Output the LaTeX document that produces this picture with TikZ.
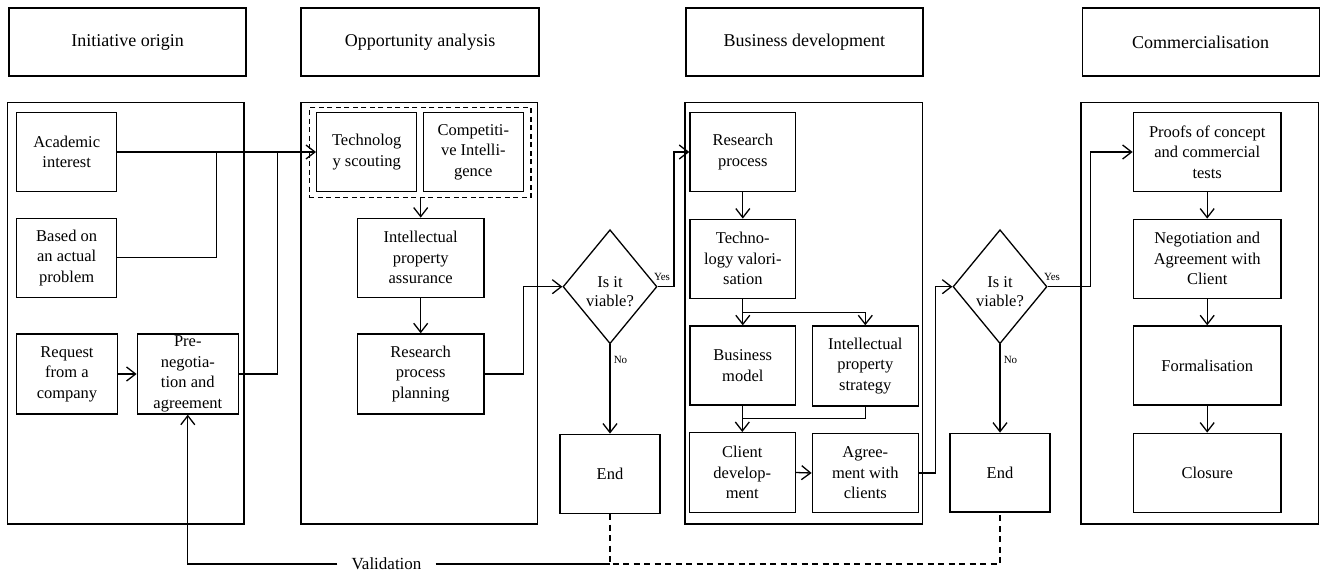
\documentclass[tikz,border=0pt]{standalone}
\usepackage{fontspec}
\setmainfont{Liberation Serif}
\usetikzlibrary{arrows.meta,shapes.geometric}

\tikzset{
  stagebox/.style={draw, line width=1.4pt, inner sep=0pt, align=center,
    font=\fontsize{18}{22}\selectfont},
  panel/.style={draw, line width=1.4pt, inner sep=0pt},
  stepbox/.style={draw, line width=1.4pt, inner sep=0pt, align=center,
    font=\fontsize{16.5}{20.5}\selectfont},
  decision/.style={draw, diamond, line width=1.3pt, inner sep=0pt,
    minimum width=94pt, minimum height=114pt, aspect=0.82},
  question/.style={inner sep=0pt, align=center, font=\fontsize{16.5}{19.5}\selectfont},
  grouping/.style={draw, dash pattern=on 5pt off 3.5pt, line width=1.3pt, inner sep=0pt},
  link/.style={line width=1.3pt},
  arr/.style={line width=1.3pt, -{Straight Barb[length=9pt,width=14pt]}},
  tag/.style={inner sep=0pt, font=\fontsize{11}{13}\selectfont},
  dashlink/.style={line width=1.3pt, dash pattern=on 6pt off 4.5pt},
}

\begin{document}
\begin{tikzpicture}[x=1pt,y=-1pt]
\useasboundingbox (0,0) rectangle (1322,573);

% stage headings
\node[stagebox, minimum width=237pt, minimum height=68pt] (h1) at (127.5,42) {Initiative origin};
\node[stagebox, minimum width=238pt, minimum height=68pt] (h2) at (420,42) {Opportunity analysis};
\node[stagebox, minimum width=237pt, minimum height=68pt] (h3) at (804.3,42) {Business development};
\node[stagebox, minimum width=237pt, minimum height=68pt] (h4) at (1200.7,42) {Commercialisation};

% stage frames
\node[panel, minimum width=236.7pt, minimum height=421.3pt] (p1) at (125.7,313.4) {};
\node[panel, minimum width=236.7pt, minimum height=421.3pt] (p2) at (419.4,313.4) {};
\node[panel, minimum width=237.3pt, minimum height=421.3pt] (p3) at (803.7,313.4) {};
\node[panel, minimum width=237.3pt, minimum height=421.3pt] (p4) at (1199.7,313.4) {};

% initiative origin
\node[stepbox, minimum width=100pt, minimum height=79.4pt] (acad) at (66.7,152) {Academic\\interest};
\node[stepbox, minimum width=100pt, minimum height=79pt] (based) at (66.7,257.8) {Based on\\an actual\\problem};
\node[stepbox, minimum width=100.6pt, minimum height=80pt] (req) at (67,374) {Request\\from a\\company};
\node[stepbox, minimum width=101pt, minimum height=80pt] (pre) at (187.8,374) {Pre-\\negotia-\\tion and\\agreement};

% opportunity analysis
\node[grouping, minimum width=221.7pt, minimum height=89.6pt] (grp) at (420.2,152.5) {};
\node[stepbox, minimum width=100pt, minimum height=79.4pt] (tech) at (366.7,152) {Technolog\\y scouting};
\node[stepbox, minimum width=100pt, minimum height=79.4pt] (comp) at (473.3,152) {Competiti-\\ve Intelli-\\gence};
\node[stepbox, minimum width=126.7pt, minimum height=79pt] (ipa) at (420.7,257.8) {Intellectual\\property\\assurance};
\node[stepbox, minimum width=126.7pt, minimum height=80pt] (rpp) at (420.7,374) {Research\\process\\planning};

% first decision
\node[decision] (d1) at (610,286.7) {};
\node[question] (q1) at (610,291.5) {Is it\\viable?};
\node[stepbox, minimum width=100pt, minimum height=79pt] (end1) at (610,473.8) {End};

% business development
\node[stepbox, minimum width=105.7pt, minimum height=79.4pt] (rp) at (742.8,152) {Research\\process};
\node[stepbox, minimum width=105.7pt, minimum height=79pt] (tv) at (742.8,258.8) {Techno-\\logy valori-\\sation};
\node[stepbox, minimum width=105.7pt, minimum height=79pt] (bm) at (742.8,365.5) {Business\\model};
\node[stepbox, minimum width=106pt, minimum height=80pt] (ips) at (865.3,366) {Intellectual\\property\\strategy};
\node[stepbox, minimum width=106pt, minimum height=79.6pt] (cd) at (742.3,472.5) {Client\\develop-\\ment};
\node[stepbox, minimum width=106pt, minimum height=78.6pt] (ag) at (865.3,473) {Agree-\\ment with\\clients};

% second decision
\node[decision] (d2) at (1000,286.7) {};
\node[question] (q2) at (1000,291.5) {Is it\\viable?};
\node[stepbox, minimum width=100pt, minimum height=78.7pt] (end2) at (1000,472.7) {End};

% commercialisation
\node[stepbox, minimum width=147.7pt, minimum height=79.4pt] (poc) at (1207.2,152) {Proofs of concept\\and commercial\\tests};
\node[stepbox, minimum width=147.7pt, minimum height=79pt] (neg) at (1207.2,258.8) {Negotiation and\\Agreement with\\Client};
\node[stepbox, minimum width=147.7pt, minimum height=79pt] (form) at (1207.2,365.5) {Formalisation};
\node[stepbox, minimum width=147.7pt, minimum height=79pt] (clos) at (1207.2,472.8) {Closure};

% validation feedback label
\node[inner xsep=14pt, inner ysep=0pt, font=\fontsize{17}{20}\selectfont] (val) at (386.5,564) {Validation};

% routing points
\coordinate (j1) at (216.7,152);
\coordinate (j2) at (277.3,152);
\coordinate (k1) at (523.3,0);
\coordinate (k2) at (674,0);
\coordinate (b1) at (742.8,312.7);
\coordinate (b2) at (742.5,418.3);
\coordinate (k3) at (935.7,0);
\coordinate (k4) at (1090.7,0);

% initiative origin flows
\draw[arr] (acad.east) -- (tech.west);
\draw[link] (based.east) -| (j1);
\draw[link] (pre.east) -| (j2);
\draw[arr] (req.east) -- (pre.west);

% opportunity analysis flows
\draw[arr] (ipa.north |- grp.south) -- (ipa.north);
\draw[arr] (ipa.south) -- (rpp.north);
\draw[arr] (rpp.east) -- (rpp.east -| k1) |- (d1.west);
\draw[arr] (d1.east) -- (d1.east -| k2) |- (rp.west);
\node[tag] (yes1) at (662,277) {Yes};
\draw[arr] (d1.south) -- (end1.north);
\node[tag] (no1) at (620.5,360) {No};

% business development flows
\draw[arr] (rp.south) -- (tv.north);
\draw[arr] (tv.south) -- (bm.north);
\draw[arr] (b1) -| (ips.north);
\draw[arr] (cd.north |- bm.south) -- (cd.north);
\draw[link] (ips.south) |- (b2);
\draw[arr] (cd.east) -- (ag.west);
\draw[arr] (ag.east) -- (ag.east -| k3) |- (d2.west);
\draw[arr] (d2.east) -- (d2.east -| k4) |- (poc.west);
\node[tag] (yes2) at (1052,277) {Yes};
\draw[arr] (d2.south) -- (end2.north);
\node[tag] (no2) at (1010.5,360) {No};

% commercialisation flows
\draw[arr] (poc.south) -- (neg.north);
\draw[arr] (neg.south) -- (form.north);
\draw[arr] (form.south) -- (clos.north);

% validation loop
\draw[arr] (val.west) -| (pre.south);
\draw[link] (val.east) -- (val.east -| end1.south);
\draw[dashlink] (end1.south) -- (end1.south |- val.east) -- (end2.south |- val.east) -- (end2.south);
\end{tikzpicture}
\end{document}
